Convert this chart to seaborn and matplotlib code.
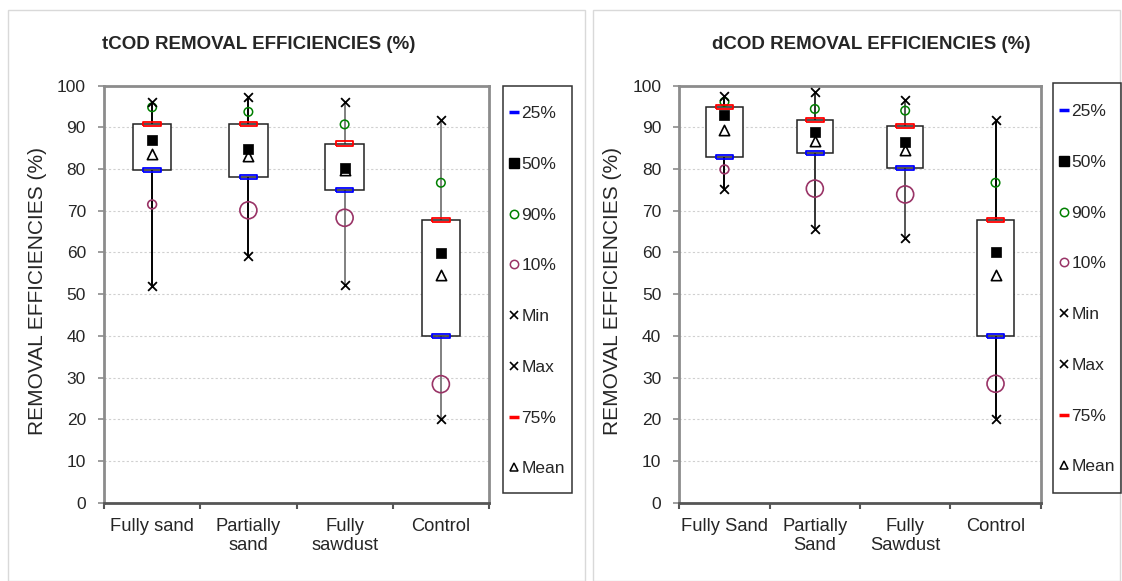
import numpy as np
import pandas as pd
import matplotlib
matplotlib.use("Agg")
import matplotlib.pyplot as plt
from matplotlib.patches import Rectangle
from matplotlib.lines import Line2D
import seaborn as sns

# ---- data: total COD removal efficiencies (%) ----
t_categories = ["Fully sand", "Partially\nsand", "Fully\nsawdust", "Control"]
t_p25 = [79.7, 78.1, 74.9, 39.9]
t_p50 = [87.0, 84.8, 80.3, 59.9]
t_p90 = [94.8, 93.7, 90.7, 76.7]
t_p10 = [71.5, 70.1, 68.3, 28.4]
t_min = [51.9, 59.1, 52.2, 20.0]
t_max = [96.1, 97.3, 96.0, 91.7]
t_p75 = [90.8, 90.8, 86.1, 67.7]
t_mean = [83.6, 83.1, 79.8, 54.7]

# ---- data: dissolved COD removal efficiencies (%) ----
d_categories = ["Fully Sand", "Partially\nSand", "Fully\nSawdust", "Control"]
d_p25 = [82.9, 83.8, 80.3, 39.9]
d_p50 = [92.9, 88.8, 86.5, 60.0]
d_p90 = [96.1, 94.4, 94.0, 76.7]
d_p10 = [79.9, 75.3, 73.9, 28.5]
d_min = [75.2, 65.5, 63.4, 20.0]
d_max = [97.5, 98.4, 96.5, 91.7]
d_p75 = [94.9, 91.8, 90.4, 67.7]
d_mean = [89.3, 86.7, 84.6, 54.6]

y_ticks = list(range(0, 101, 10))
legend_labels = ["25%", "50%", "90%", "10%", "Min", "Max", "75%", "Mean"]

sns.set_style("white")
plt.rcParams["font.family"] = ["Liberation Sans", "DejaVu Sans"]

W, H = 1122, 581
fig = plt.figure(figsize=(W / 100, H / 100), dpi=100)


def fx(px):
    return px / W


def fy(py):
    return 1 - py / H


BLUE = "#0000ff"
RED = "#ff0000"
GREEN = "#008000"
PLUM = "#993366"
FS = 12.5

# flat rectangle marker for the quartile ticks
quart_marker = [(-0.5, -0.12), (0.5, -0.12), (0.5, 0.12), (-0.5, 0.12), (-0.5, -0.12)]

# outer panel frames
for x0, x1 in [(8, 585), (593, 1120)]:
    fig.patches.append(Rectangle((fx(x0), fy(581)), fx(x1) - fx(x0), fy(10) - fy(581),
                                 transform=fig.transFigure, fill=False,
                                 edgecolor="#d9d9d9", linewidth=1, zorder=0))


def draw_panel(rect, cats, p25, p50, p90, p10, vmin, vmax, p75, mean,
               whisker_colors, p10_sizes):
    ax = fig.add_axes(rect)
    df = pd.DataFrame({"cat": cats, "p25": p25, "p50": p50, "p90": p90,
                       "p10": p10, "min": vmin, "max": vmax, "p75": p75,
                       "mean": mean})

    # markers
    sns.scatterplot(data=df, x="cat", y="mean", marker="^", s=55, color="black",
                    facecolor="white", edgecolor="black", linewidth=1.2,
                    ax=ax, legend=False, zorder=5)
    sns.scatterplot(data=df, x="cat", y="p50", marker="s", s=45, color="black",
                    edgecolor="black", linewidth=0.5, ax=ax, legend=False, zorder=6)
    sns.scatterplot(data=df, x="cat", y="p90", marker="o", s=38, color=GREEN,
                    facecolor="none", edgecolor=GREEN, linewidth=1.1,
                    ax=ax, legend=False, zorder=6)
    for i in range(len(cats)):
        sns.scatterplot(x=[cats[i]], y=[p10[i]], marker="o", s=p10_sizes[i],
                        color=PLUM, facecolor="none", edgecolor=PLUM,
                        linewidth=1.2, ax=ax, legend=False, zorder=6)
    for col in ["min", "max"]:
        sns.scatterplot(data=df, x="cat", y=col, marker="x", s=40, color="black",
                        linewidth=1.3, ax=ax, legend=False, zorder=6)
    sns.scatterplot(data=df, x="cat", y="p25", marker=quart_marker, s=160,
                    color=BLUE, facecolor="none", edgecolor=BLUE, linewidth=1.3,
                    ax=ax, legend=False, zorder=7)
    sns.scatterplot(data=df, x="cat", y="p75", marker=quart_marker, s=160,
                    color=RED, facecolor="none", edgecolor=RED, linewidth=1.3,
                    ax=ax, legend=False, zorder=7)

    # whiskers and boxes
    for i, c in enumerate(cats):
        ax.vlines([c], [vmin[i]], [vmax[i]], colors=whisker_colors[i],
                  linewidth=1.4, zorder=2)
    ax.bar(df["cat"], df["p75"] - df["p25"], bottom=df["p25"], width=0.4,
           color="white", edgecolor="#222222", linewidth=1.1, zorder=3)

    ax.set_xlim(-0.5, len(cats) - 0.5)
    ax.set_ylim(0, 100)
    ax.set_yticks(y_ticks)
    ax.set_xticks(np.arange(len(cats) + 1) - 0.5)
    ax.set_xticklabels([])
    ax.set_xticks(np.arange(len(cats)), minor=True)
    ax.set_xticklabels(cats, minor=True, fontsize=13.2)
    ax.tick_params(axis="x", which="minor", length=0, pad=11)
    ax.tick_params(axis="x", which="major", length=4, width=1.5,
                   color="#555555", direction="out", bottom=True)
    ax.tick_params(axis="y", length=4, width=1.2, color="#8c8c8c",
                   direction="out", left=True, pad=9, labelsize=FS)
    ax.set_xlabel("")
    ax.set_ylabel("")
    ax.yaxis.grid(True, color="#d0d0d0", linestyle=(0, (2, 2)), linewidth=0.8)
    ax.set_axisbelow(True)
    for s in ["left", "right", "top"]:
        ax.spines[s].set_color("#8c8c8c")
        ax.spines[s].set_linewidth(2)
    ax.spines["bottom"].set_color("#555555")
    ax.spines["bottom"].set_linewidth(2)
    return ax


y_bot, y_top = 502.6, 85.6
axL = draw_panel([fx(104), fy(y_bot), fx(489) - fx(104), fy(y_top) - fy(y_bot)],
                 t_categories, t_p25, t_p50, t_p90, t_p10, t_min, t_max, t_p75, t_mean,
                 ["black", "black", "#808080", "#808080"], [40, 150, 150, 150])
axR = draw_panel([fx(679.3), fy(y_bot), fx(1040.7) - fx(679.3), fy(y_top) - fy(y_bot)],
                 d_categories, d_p25, d_p50, d_p90, d_p10, d_min, d_max, d_p75, d_mean,
                 ["black", "#333333", "#555555", "black"], [40, 150, 150, 150])

# titles and axis labels
fig.text(fx(258.5), fy(44.5), "tCOD REMOVAL EFFICIENCIES (%)", ha="center", va="center",
         fontsize=13.5, fontweight="bold")
fig.text(fx(871), fy(44.5), "dCOD REMOVAL EFFICIENCIES (%)", ha="center", va="center",
         fontsize=13.5, fontweight="bold")
fig.text(fx(38), fy(291), "REMOVAL EFFICIENCIES (%)", ha="center", va="center",
         rotation=90, fontsize=15)
fig.text(fx(613), fy(291), "REMOVAL EFFICIENCIES (%)", ha="center", va="center",
         rotation=90, fontsize=15)

# legends
handles = [
    Line2D([], [], linestyle="none", marker="_", markersize=7, markeredgewidth=2.5, color=BLUE),
    Line2D([], [], linestyle="none", marker="s", markersize=6.5, color="black"),
    Line2D([], [], linestyle="none", marker="o", markersize=6, markerfacecolor="none",
           markeredgecolor=GREEN, markeredgewidth=1.1),
    Line2D([], [], linestyle="none", marker="o", markersize=6, markerfacecolor="none",
           markeredgecolor=PLUM, markeredgewidth=1.1),
    Line2D([], [], linestyle="none", marker="x", markersize=6, color="black", markeredgewidth=1.2),
    Line2D([], [], linestyle="none", marker="x", markersize=6, color="black", markeredgewidth=1.2),
    Line2D([], [], linestyle="none", marker="_", markersize=7, markeredgewidth=2.5, color=RED),
    Line2D([], [], linestyle="none", marker="^", markersize=6, markerfacecolor="white",
           markeredgecolor="black", markeredgewidth=1.1),
]

for (bx0, by0, bx1, by1), mx, first_y in [((502.7, 86, 571.7, 493), 514, 112),
                                          ((1053.3, 82.7, 1121.0, 492.7), 1064, 110)]:
    fig.patches.append(Rectangle((fx(bx0), fy(by1)), fx(bx1) - fx(bx0), fy(by0) - fy(by1),
                                 transform=fig.transFigure, fill=False,
                                 edgecolor="#333333", linewidth=1.1, zorder=1))
    fig.legend(handles, legend_labels, loc="upper left",
               bbox_to_anchor=(fx(mx - 7), fy(first_y - 6)),
               frameon=False, borderpad=0, borderaxespad=0, handlelength=0.8,
               handletextpad=0.02, labelspacing=2.05, fontsize=FS)

fig.savefig("out.png", dpi=100, facecolor="white")
